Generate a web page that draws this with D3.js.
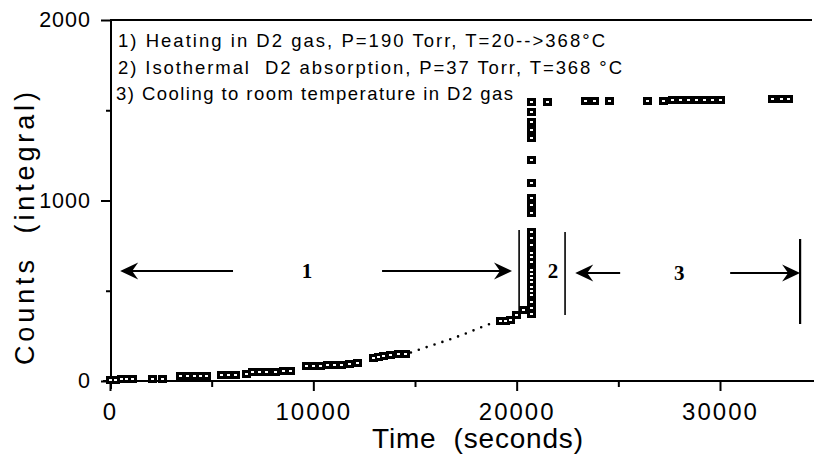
<!DOCTYPE html>
<html>
<head>
<meta charset="utf-8">
<script src="https://cdn.jsdelivr.net/npm/d3@7"></script>
<style>
  html, body { margin: 0; padding: 0; background: #fff; }
  svg { display: block; }
  text { fill: #000; white-space: pre; }
</style>
</head>
<body>
<svg id="chart" width="814" height="458"></svg>
<script>
// Phase 1: heating in D2 gas (time in s, integral counts)
const heatT = [0, 250, 550, 800, 1100, 2070, 2560,
  3440, 3790, 4130, 4430, 4720, 5460, 5800, 6150,
  6690, 6980, 7330, 7670, 8120, 8510, 8850,
  9640, 9985, 10330, 10670, 11020, 11360, 11760, 12150,
  12940, 13180, 13430, 13770, 14170, 14510];
const heatC = [8, 8, 10, 10, 12, 10, 10,
  25, 25, 26, 27, 28, 32, 33, 34,
  40, 48, 50, 52, 52, 55, 55,
  82, 83, 84, 86, 88, 90, 92, 100,
  130, 135, 140, 143, 148, 152];

// Dotted trend between the heating runs
const fitT = [14800, 15500, 16200, 16900, 17600, 18300, 19000];
const fitC = [158, 185, 211, 238, 268, 300, 330];

// Phase 2: isothermal absorption
const absorbT = [19180, 19430, 19680, 19970, 20310,
  20710, 20710, 20710, 20710, 20710, 20710, 20710, 20710, 20710, 20710,
  20710, 20710, 20710, 20710, 20710, 20710, 20710, 20710, 20710, 20710, 20710,
  20710, 20710, 20710, 20710, 20710,
  21500];
const absorbC = [333, 335, 338, 366, 393,
  370, 405, 438, 476, 521, 571, 615, 659, 709, 753, 792,
  825, 931, 975, 1014, 1097, 1224, 1346, 1391, 1435, 1490, 1546,
  498, 546, 594, 685,
  1546];

// Phase 3: cooling to room temperature
const coolT = [23360, 23810, 24550, 26410, 27200, 27640, 28040, 28430,
  28820, 29220, 29610, 30000, 32560, 33000, 33350];
const coolC = [1550, 1550, 1550, 1553, 1553, 1555, 1555, 1555,
  1555, 1555, 1555, 1555, 1562, 1562, 1562];

const xTicks = [0, 10000, 20000, 30000];
const xMinorTicks = [5000, 15000, 25000];
const yTicks = [0, 1000, 2000];
const yMinorTicks = [500, 1500];

const legendLines = [
  "1) Heating in D2 gas, P=190 Torr, T=20-->368°C",
  "2) Isothermal  D2 absorption, P=37 Torr, T=368 °C",
  "3) Cooling to room temperature in D2 gas"
];
const phaseNames = ["1", "2", "3"];
// Phase boundaries (s)
const phaseEdges = [20120, 22380, 33940];

const xLabel = "Time  (seconds)";
const yLabel = "Counts  (integral)";

const svg = d3.select("#chart");
const plotL = 110, plotT = 20, plotR = 814, plotB = 381;

const x = d3.scaleLinear().domain([0, 34623]).range([plotL, plotR]);
const y = d3.scaleLinear().domain([0, 2000]).range([plotB, plotT]);

const sans = "'Liberation Sans', Arial, Helvetica, sans-serif";
const serif = "'Liberation Serif', 'Times New Roman', serif";

// Frame lines
svg.append("line").attr("x1", plotL).attr("x2", 812).attr("y1", plotT).attr("y2", plotT)
  .attr("stroke", "#000").attr("stroke-width", 2);
svg.append("line").attr("x1", 103).attr("x2", plotR).attr("y1", plotB).attr("y2", plotB)
  .attr("stroke", "#000").attr("stroke-width", 2);
svg.append("line").attr("x1", plotL + 1).attr("x2", plotL + 1).attr("y1", plotT - 1).attr("y2", 389)
  .attr("stroke", "#000").attr("stroke-width", 2);

// X axis
const gx = svg.append("g").attr("transform", `translate(0,${plotB})`)
  .call(d3.axisBottom(x).tickValues(xTicks).tickSize(10).tickPadding(12).tickFormat(d3.format("d")));
const gxm = svg.append("g").attr("transform", `translate(0,${plotB})`)
  .call(d3.axisBottom(x).tickValues(xMinorTicks).tickSize(6).tickFormat(""));
[gx, gxm].forEach(g => {
  g.select(".domain").remove();
  g.selectAll(".tick line").attr("stroke", "#000").attr("stroke-width", 2);
});
gx.selectAll(".tick text").attr("font-family", sans).attr("font-size", 24)
  .attr("letter-spacing", 2).attr("fill", "#000");

// Y axis
const gy = svg.append("g").attr("transform", `translate(${plotL + 1},0)`)
  .call(d3.axisLeft(y).tickValues(yTicks).tickSize(10).tickPadding(10).tickFormat(d3.format("d")));
const gym = svg.append("g").attr("transform", `translate(${plotL + 1},0)`)
  .call(d3.axisLeft(y).tickValues(yMinorTicks).tickSize(5).tickFormat(""));
[gy, gym].forEach(g => {
  g.select(".domain").remove();
  g.selectAll(".tick line").attr("stroke", "#000").attr("stroke-width", 2);
});
gy.selectAll(".tick text").attr("font-family", sans).attr("font-size", 21.5)
  .attr("letter-spacing", 1).attr("fill", "#000");

// Axis titles
svg.append("text").text(xLabel)
  .attr("x", 372).attr("y", 448)
  .attr("font-family", sans).attr("font-size", 28)
  .attr("textLength", 211).attr("lengthAdjust", "spacing");
svg.append("text").text(yLabel)
  .attr("transform", "translate(34,365) rotate(-90)")
  .attr("font-family", sans).attr("font-size", 27)
  .attr("textLength", 273).attr("lengthAdjust", "spacing");

// Legend block
const legendX = [118, 118, 116];
const legendEnd = [605, 622, 513];
legendLines.forEach((s, i) => {
  svg.append("text").text(s)
    .attr("x", legendX[i]).attr("y", 47 + i * 26.5)
    .attr("font-family", sans).attr("font-size", 18.5)
    .attr("textLength", legendEnd[i] - legendX[i]).attr("lengthAdjust", "spacing");
});

// Dotted trend
const line = d3.line().x(d => x(d[0])).y(d => y(d[1])).curve(d3.curveMonotoneX);
svg.append("path").datum(fitT.map((t, i) => [t, fitC[i]]))
  .attr("d", line).attr("fill", "none").attr("stroke", "#000")
  .attr("stroke-width", 2.6).attr("stroke-linecap", "round")
  .attr("stroke-dasharray", "0 8.3");

// Phase annotations
const arrowY = 271;
function arrow(x0, x1, yy) {
  const dir = Math.sign(x1 - x0);
  svg.append("line").attr("x1", x0).attr("x2", x1 - dir * 10).attr("y1", yy).attr("y2", yy)
    .attr("stroke", "#000").attr("stroke-width", 2);
  const p = d3.path();
  p.moveTo(x1, yy);
  p.lineTo(x1 - dir * 18, yy - 8.5);
  p.lineTo(x1 - dir * 12, yy);
  p.lineTo(x1 - dir * 18, yy + 8.5);
  p.closePath();
  svg.append("path").attr("d", p.toString()).attr("fill", "#000");
}
function edge(t, y0, y1, w) {
  svg.append("line").attr("x1", x(t)).attr("x2", x(t)).attr("y1", y0).attr("y2", y1)
    .attr("stroke", "#000").attr("stroke-width", w);
}
// phase 1
arrow(x(6050), x(500), arrowY);
arrow(x(13380), x(19770), arrowY);
edge(phaseEdges[0], 230, 312, 1.6);
// phase 2
edge(phaseEdges[1], 232, 315, 1.6);
// phase 3
arrow(x(25090), x(22880), arrowY + 2);
arrow(x(30500), x(phaseEdges[2]), arrowY + 2);
edge(phaseEdges[2], 239, 324, 2.2);

const labelT = [9690, 21790, 27990];
phaseNames.forEach((s, i) => {
  svg.append("text").text(s)
    .attr("x", x(labelT[i])).attr("y", 278 + (i === 2 ? 2 : 0))
    .attr("text-anchor", "middle")
    .attr("font-family", serif).attr("font-weight", "bold").attr("font-size", 21);
});

// Markers: filled square with a small open centre
function markers(ts, cs) {
  const pts = ts.map((t, i) => [t, cs[i]]);
  const g = svg.append("g").attr("shape-rendering", "crispEdges");
  g.selectAll("rect.o").data(pts).join("rect").attr("class", "o")
    .attr("x", d => Math.round(x(d[0])) - 4).attr("y", d => Math.round(y(d[1])) - 4)
    .attr("width", 9).attr("height", 8).attr("fill", "#000");
  g.selectAll("rect.i").data(pts).join("rect").attr("class", "i")
    .attr("x", d => Math.round(x(d[0])) - 1).attr("y", d => Math.round(y(d[1])) - 1)
    .attr("width", 3).attr("height", 2).attr("fill", "#fff");
}
markers(heatT, heatC);
markers(absorbT, absorbC);
markers(coolT, coolC);
</script>
</body>
</html>
